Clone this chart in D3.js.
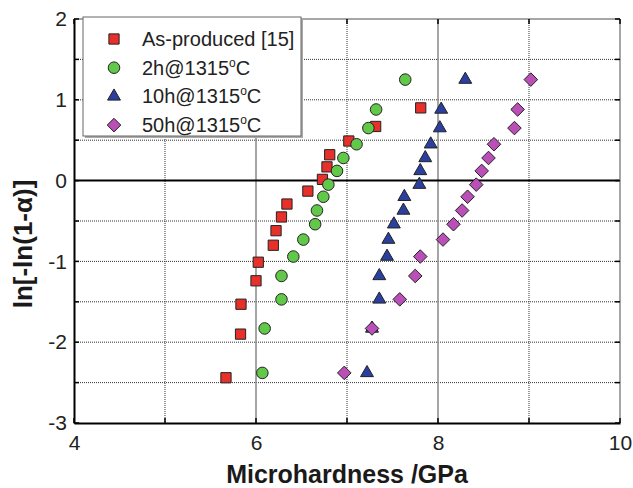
<!DOCTYPE html>
<html>
<head>
<meta charset="utf-8">
<script src="https://cdn.jsdelivr.net/npm/d3@7"></script>
<style>
  body { margin: 0; background: #fff; }
  svg { font-family: "Liberation Sans", Arial, sans-serif; }
</style>
</head>
<body>
<svg id="chart" width="633" height="488"></svg>
<script>
// data
var asProducedX = [5.67, 5.83, 5.835, 6.00, 6.025, 6.19, 6.22, 6.28, 6.34, 6.57, 6.73, 6.78, 6.81, 7.02, 7.315, 7.81];
var asProducedY = [-2.44, -1.90, -1.53, -1.24, -1.01, -0.80, -0.62, -0.45, -0.29, -0.13, 0.015, 0.17, 0.32, 0.49, 0.67, 0.90];

var h2X = [6.07, 6.095, 6.28, 6.28, 6.41, 6.52, 6.65, 6.67, 6.74, 6.795, 6.89, 6.96, 7.105, 7.235, 7.32, 7.64];
var h2Y = [-2.38, -1.83, -1.47, -1.18, -0.94, -0.73, -0.54, -0.37, -0.20, -0.05, 0.12, 0.28, 0.45, 0.65, 0.88, 1.25];

var h10X = [7.22, 7.275, 7.355, 7.355, 7.44, 7.455, 7.515, 7.62, 7.63, 7.795, 7.805, 7.86, 7.92, 8.02, 8.035, 8.30];
var h10Y = [-2.38, -1.83, -1.47, -1.18, -0.94, -0.73, -0.54, -0.37, -0.20, -0.05, 0.12, 0.28, 0.45, 0.65, 0.88, 1.25];

var h50X = [6.97, 7.275, 7.58, 7.75, 7.805, 8.055, 8.17, 8.265, 8.325, 8.42, 8.48, 8.555, 8.615, 8.84, 8.875, 9.02];
var h50Y = [-2.38, -1.83, -1.47, -1.18, -0.94, -0.73, -0.54, -0.37, -0.20, -0.05, 0.12, 0.28, 0.45, 0.65, 0.88, 1.25];

var seriesNames = ["As-produced [15]", "2h@1315", "10h@1315", "50h@1315"];
var xTicks = [4, 6, 8, 10];
var yTicks = [-3, -2, -1, 0, 1, 2];

var svg = d3.select("#chart");
var padLeft = 74, padRight = 620, padTop = 19, padBottom = 423;

var x = d3.scaleLinear().domain([4, 10]).range([padLeft, padRight]);
var y = d3.scaleLinear().domain([-3, 2]).range([padBottom, padTop]);

// plain hyphen minus, like the original
var fmt = function(d) { return String(d); };

// grid
var grid = svg.append("g");
d3.range(-2.5, 2, 0.5).forEach(function(v) {
    if (v === 0) return;
    grid.append("line")
        .attr("x1", padLeft).attr("x2", padRight)
        .attr("y1", y(v)).attr("y2", y(v))
        .attr("stroke", "#333").attr("stroke-width", 1)
        .attr("stroke-dasharray", "1,1");
});
[5, 6, 7, 8, 9].forEach(function(v) {
    var solid = (v === 6 || v === 8);
    grid.append("line")
        .attr("x1", x(v)).attr("x2", x(v))
        .attr("y1", padTop).attr("y2", padBottom)
        .attr("stroke", solid ? "#888" : "#333")
        .attr("stroke-width", solid ? 1.5 : 1)
        .attr("stroke-dasharray", solid ? null : "1,1");
});
// zero line
svg.append("line")
    .attr("x1", padLeft).attr("x2", padRight)
    .attr("y1", y(0)).attr("y2", y(0))
    .attr("stroke", "#000").attr("stroke-width", 2);

// frame
svg.append("line").attr("x1", padLeft).attr("x2", padRight).attr("y1", padTop).attr("y2", padTop)
    .attr("stroke", "#888").attr("stroke-width", 1.5);
svg.append("line").attr("x1", padRight).attr("x2", padRight).attr("y1", padTop).attr("y2", padBottom)
    .attr("stroke", "#888").attr("stroke-width", 1.5);

// axes
var xAxis = d3.axisBottom(x).tickValues(xTicks).tickSize(0).tickPadding(12).tickFormat(fmt);
var gx = svg.append("g").attr("transform", "translate(0," + padBottom + ")").call(xAxis);
gx.select(".domain").attr("stroke", "#000").attr("stroke-width", 2);
gx.selectAll("text").attr("font-size", 21).attr("fill", "#222")
    .attr("font-family", "Liberation Sans, Arial, sans-serif");

var yAxis = d3.axisLeft(y).tickValues(yTicks).tickSize(0).tickPadding(7).tickFormat(fmt);
var gy = svg.append("g").attr("transform", "translate(" + padLeft + ",0)").call(yAxis);
gy.select(".domain").attr("stroke", "#000").attr("stroke-width", 2);
gy.selectAll("text").attr("font-size", 21).attr("fill", "#222")
    .attr("font-family", "Liberation Sans, Arial, sans-serif");

// inward tick marks
var ticks = svg.append("g").attr("stroke", "#000").attr("stroke-width", 1.5);
d3.range(-3, 2.01, 0.5).forEach(function(v) {
    ticks.append("line").attr("x1", padLeft).attr("x2", padLeft + 5).attr("y1", y(v)).attr("y2", y(v));
    ticks.append("line").attr("x1", padRight).attr("x2", padRight - 5).attr("y1", y(v)).attr("y2", y(v));
});
d3.range(4, 10.01, 1).forEach(function(v) {
    ticks.append("line").attr("x1", x(v)).attr("x2", x(v)).attr("y1", padBottom).attr("y2", padBottom - 5);
    ticks.append("line").attr("x1", x(v)).attr("x2", x(v)).attr("y1", padTop).attr("y2", padTop + 5);
});

// axis titles
svg.append("text")
    .attr("x", 347).attr("y", 483)
    .attr("text-anchor", "middle")
    .attr("font-size", 25).attr("font-weight", "bold").attr("fill", "#1a1a1a")
    .text("Microhardness /GPa");
svg.append("text")
    .attr("transform", "translate(32,244) rotate(-90)")
    .attr("text-anchor", "middle")
    .attr("font-size", 26).attr("font-weight", "bold").attr("fill", "#1a1a1a")
    .text("ln[-ln(1-\u03b1)]");

// markers
var diamond = {
    draw: function(ctx, size) {
        var r = Math.sqrt(size / 2);
        ctx.moveTo(0, -r); ctx.lineTo(r, 0); ctx.lineTo(0, r); ctx.lineTo(-r, 0); ctx.closePath();
    }
};
var sym = {
    square: d3.symbol().type(d3.symbolSquare).size(105),
    circle: d3.symbol().type(d3.symbolCircle).size(105),
    triangle: d3.symbol().type(d3.symbolTriangle).size(72),
    diamond: d3.symbol().type(diamond).size(92)
};
var series = [
    {xs: asProducedX, ys: asProducedY, shape: "square", fill: "#e8302a"},
    {xs: h2X, ys: h2Y, shape: "circle", fill: "#62c84a"},
    {xs: h10X, ys: h10Y, shape: "triangle", fill: "#2b3f9f"},
    {xs: h50X, ys: h50Y, shape: "diamond", fill: "#bb4fb8"}
];
series.forEach(function(s) {
    svg.append("g").selectAll("path")
        .data(d3.range(s.xs.length))
        .enter()
        .append("path")
            .attr("d", sym[s.shape])
            .attr("transform", function(i) {
                return "translate(" + x(s.xs[i]) + "," + y(s.ys[i]) + ")";
            })
            .attr("fill", s.fill)
            .attr("stroke", "#222")
            .attr("stroke-width", 1);
});

// legend
var lg = svg.append("g");
lg.append("rect").attr("x", 85).attr("y", 19).attr("width", 218).attr("height", 119).attr("fill", "#aaa");
lg.append("rect").attr("x", 83).attr("y", 17).attr("width", 218).attr("height", 119)
    .attr("fill", "#fff").attr("stroke", "#666").attr("stroke-width", 1);
series.forEach(function(s, i) {
    var cy = 39 + i * 28.7;
    lg.append("path")
        .attr("d", sym[s.shape])
        .attr("transform", "translate(114," + cy + ")")
        .attr("fill", s.fill).attr("stroke", "#222").attr("stroke-width", 1);
    var t = lg.append("text").attr("x", 142).attr("y", cy + 7)
        .attr("font-size", 20).attr("fill", "#222");
    t.append("tspan").text(seriesNames[i]);
    if (i > 0) {
        t.append("tspan").attr("dy", -8).attr("font-size", 12).text("o");
        t.append("tspan").attr("dy", 8).text("C");
    }
});
</script>
</body>
</html>
